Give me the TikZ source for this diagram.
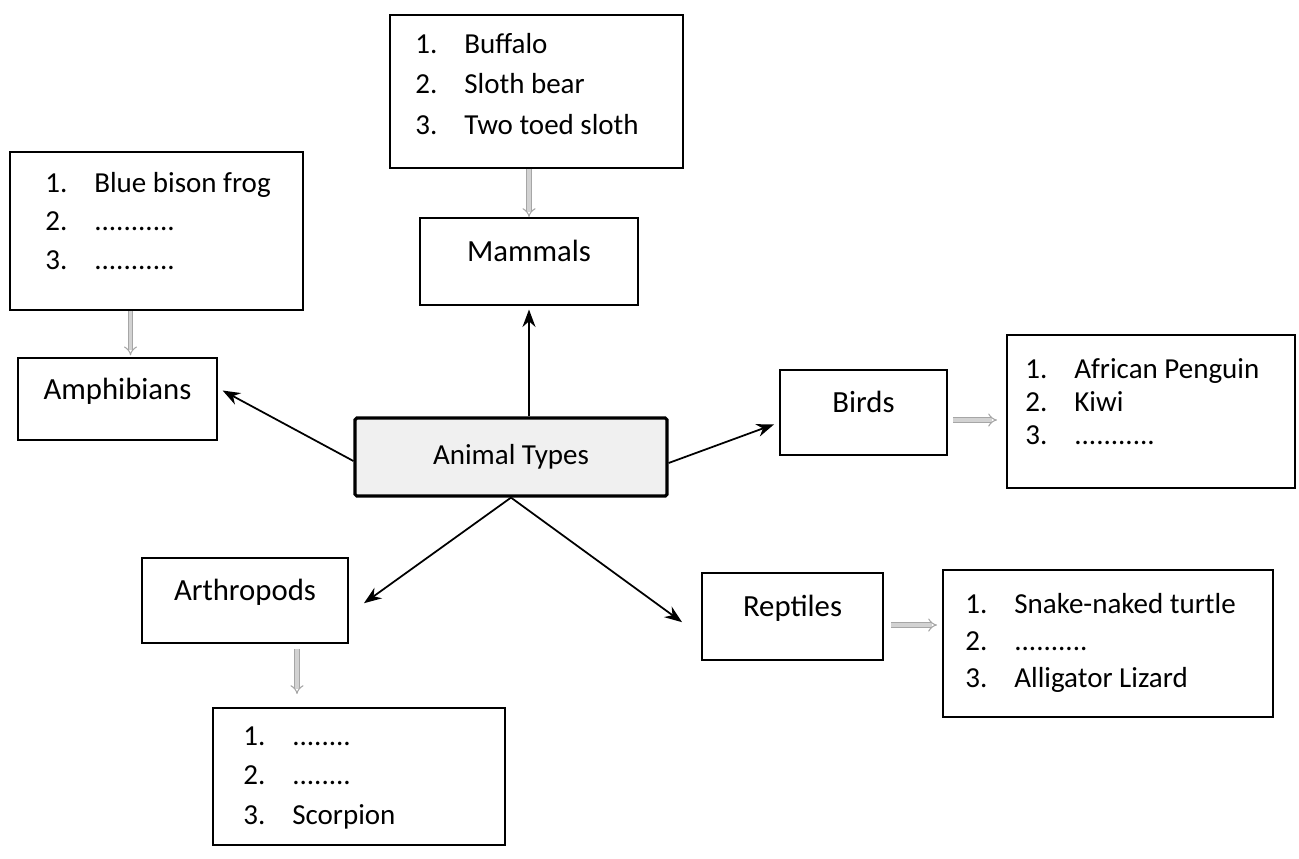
\documentclass[tikz,border=0pt]{standalone}
\usepackage{fontspec}
\setmainfont{Carlito}
\usetikzlibrary{arrows.meta,calc}

\newcommand{\itemno}[1]{\makebox[0.98cm][l]{#1}}

\begin{document}
\begin{tikzpicture}[
    box/.style={rectangle, draw, line width=1.1pt, fill=white, inner sep=0pt},
    kind/.style={box, font=\fontsize{17.5}{20}\selectfont, text height=0.3cm, text depth=0.3cm},
    items/.style={anchor=base west, inner sep=0pt, font=\fontsize{16.5}{#1}\selectfont},
    hub/.style={rectangle, draw, line width=1.8pt, fill=gray!12, rounded corners=1pt, font=\fontsize{16.5}{20}\selectfont},
    link/.style={-{Stealth[length=3.5mm,width=2.6mm]}, line width=1pt},
    dbl/.style={-{Implies}, draw=gray!70, double=gray!35, double distance=2pt, line width=0.6pt}
]
\useasboundingbox (0,0) rectangle (25.98,-17.16);

% Centre
\node[hub, minimum width=6.24cm, minimum height=1.56cm] (types) at (10.22,-9.14) {Animal Types};

% Animal groups
\node[kind, minimum width=4.36cm, minimum height=1.74cm] (mammals) at (10.58,-5.23) {Mammals};
\node[kind, minimum width=3.98cm, minimum height=1.64cm] (amphib) at (2.35,-7.98) {Amphibians};
\node[kind, minimum width=3.34cm, minimum height=1.70cm] (birds) at (17.27,-8.25) {Birds};
\node[kind, minimum width=4.12cm, minimum height=1.70cm] (arthro) at (4.90,-12.01) {Arthropods};
\node[kind, minimum width=3.62cm, minimum height=1.74cm] (reptiles) at (15.85,-12.33) {Reptiles};

% Example lists
\node[box, minimum width=5.86cm, minimum height=3.06cm] (mamlist) at (10.73,-1.83) {};
\node[items=23.2] (mamitems) at (8.30,-1.06) {\begin{tabular}[t]{@{}l@{}}
    \itemno{1.}Buffalo\\ \itemno{2.}Sloth bear\\ \itemno{3.}Two toed sloth\end{tabular}};

\node[box, minimum width=5.86cm, minimum height=3.16cm] (amplist) at (3.13,-4.62) {};
\node[items=22.1] (ampitems) at (0.90,-3.84) {\begin{tabular}[t]{@{}l@{}}
    \itemno{1.}Blue bison frog\\ \itemno{2.}...........\\ \itemno{3.}...........\end{tabular}};

\node[box, minimum width=5.76cm, minimum height=3.06cm] (birdlist) at (23.02,-8.23) {};
\node[items=19] (birditems) at (20.50,-7.56) {\begin{tabular}[t]{@{}l@{}}
    \itemno{1.}African Penguin\\ \itemno{2.}Kiwi\\ \itemno{3.}...........\end{tabular}};

\node[box, minimum width=6.60cm, minimum height=2.94cm] (replist) at (22.16,-12.87) {};
\node[items=21.3] (repitems) at (19.30,-12.26) {\begin{tabular}[t]{@{}l@{}}
    \itemno{1.}Snake-naked turtle\\ \itemno{2.}..........\\ \itemno{3.}Alligator Lizard\end{tabular}};

\node[box, minimum width=5.84cm, minimum height=2.74cm] (arthlist) at (7.18,-15.53) {};
\node[items=22.7] (arthitems) at (4.86,-14.90) {\begin{tabular}[t]{@{}l@{}}
    \itemno{1.}........\\ \itemno{2.}........\\ \itemno{3.}Scorpion\end{tabular}};

% Arrows from the centre
\draw[link, shorten >=2pt] (types.north -| mammals) -- (mammals);
\draw[link, shorten >=3pt] ([yshift=-0.08cm]types.west) -- ([yshift=0.22cm]amphib.east);
\draw[link, shorten >=3pt] ([yshift=-0.12cm]types.east) -- ([yshift=-0.2cm]birds.west);
\draw[link, shorten >=0.37cm] (types.south) -- ([yshift=-0.27cm]arthro.east);
\draw[link, shorten >=0.47cm] (types.south) -- ([yshift=-0.39cm]reptiles.west);

% Lists to groups
\draw[dbl] (mamlist.south -| mammals.north) -- (mammals.north);
\draw[dbl, shorten >=1pt] ([xshift=0.26cm]amphib.north |- amplist.south) -- ([xshift=0.26cm]amphib.north);
\draw[dbl, shorten <=0.1cm, shorten >=0.18cm] ([yshift=-0.15cm]birds.east) -- ([yshift=-0.15cm]birds.east -| birdlist.west);
\draw[dbl, shorten <=0.14cm, shorten >=0.1cm] ([yshift=-0.17cm]reptiles.east) -- ([yshift=-0.17cm]reptiles.east -| replist.west);
\draw[dbl, shorten <=0.1cm, shorten >=0.26cm] ([xshift=1.04cm]arthro.south) -- ([xshift=1.04cm]arthro.south |- arthlist.north);

\end{tikzpicture}
\end{document}
